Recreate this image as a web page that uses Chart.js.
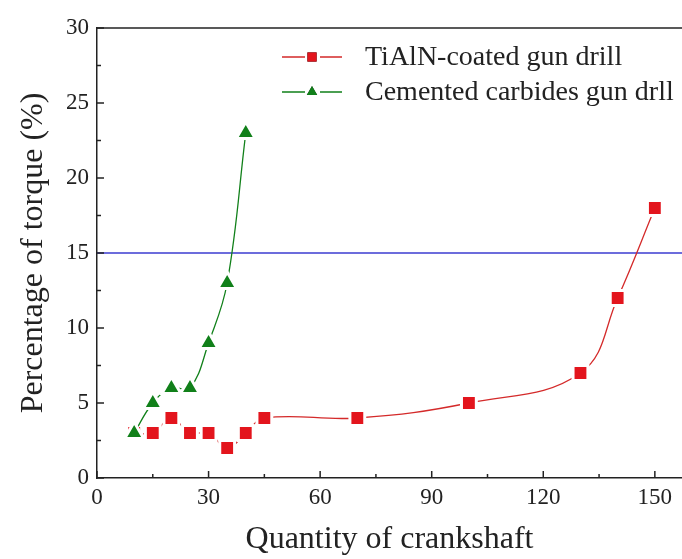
<!DOCTYPE html>
<html>
<head>
<meta charset="utf-8">
<title>Percentage of torque vs quantity of crankshaft</title>
<script src="https://cdn.jsdelivr.net/npm/chart.js@4.4.1/dist/chart.umd.min.js"></script>
<style>
    html, body { margin: 0; padding: 0; background: #ffffff; }
    #wrap { width: 682px; height: 559px; }
</style>
</head>
<body>
<div id="wrap"><canvas id="torqueChart" width="682" height="559"></canvas></div>
<script>
// Data
const tialnQty = [10, 15, 20, 25, 30, 35, 40, 45, 70, 100, 130, 140, 150];
const tialnTorque = [3, 3, 4, 3, 3, 2, 3, 4, 4, 5, 7, 12, 18];
const carbideQty = [10, 15, 20, 25, 30, 35, 40];
const carbideTorque = [3, 5, 6, 6, 9, 13, 23];
const limitTorque = 15;
const xTickValues = [0, 30, 60, 90, 120, 150];
const yTickValues = [0, 5, 10, 15, 20, 25, 30];
const seriesNames = ['TiAlN-coated gun drill', 'Cemented carbides gun drll'];

const X_MAX = 157.3;
const SERIF = '"Liberation Serif", "Times New Roman", serif';
const RED = '#e3151d';
const RED_LINE = '#d42a2a';
const GREEN = '#11801a';
const BLUE = '#3b3bd0';

const toPoints = (xs, ys) => xs.map((x, i) => ({ x: x, y: ys[i] }));

// Inward ticks, top frame line and the in-plot legend
const framePlugin = {
    id: 'frame',
    afterDraw(chart) {
        const ctx = chart.ctx;
        const area = chart.chartArea;
        const xs = chart.scales.x;
        const ys = chart.scales.y;
        ctx.save();
        ctx.strokeStyle = '#222';
        ctx.lineWidth = 1.5;

        // top border
        ctx.beginPath();
        ctx.moveTo(area.left, area.top);
        ctx.lineTo(chart.width, area.top);
        ctx.stroke();

        // x ticks (major + minor)
        xTickValues.forEach((v) => {
            const px = xs.getPixelForValue(v);
            ctx.beginPath();
            ctx.moveTo(px, area.bottom);
            ctx.lineTo(px, area.bottom - 7);
            ctx.stroke();
            const mid = v + 15;
            if (mid < X_MAX) {
                const mx = xs.getPixelForValue(mid);
                ctx.beginPath();
                ctx.moveTo(mx, area.bottom);
                ctx.lineTo(mx, area.bottom - 4);
                ctx.stroke();
            }
        });

        // y ticks (major + minor)
        yTickValues.forEach((v) => {
            const py = ys.getPixelForValue(v);
            ctx.beginPath();
            ctx.moveTo(area.left, py);
            ctx.lineTo(area.left + 7, py);
            ctx.stroke();
            if (v < 30) {
                const my = ys.getPixelForValue(v + 2.5);
                ctx.beginPath();
                ctx.moveTo(area.left, my);
                ctx.lineTo(area.left + 4, my);
                ctx.stroke();
            }
        });

        // legend
        const items = [
            { label: seriesNames[0], line: RED_LINE, fill: RED, style: 'rect', y: 57 },
            { label: seriesNames[1], line: GREEN, fill: GREEN, style: 'triangle', y: 92 }
        ];
        ctx.font = '28px ' + SERIF;
        ctx.textBaseline = 'middle';
        ctx.textAlign = 'left';
        items.forEach((it) => {
            ctx.strokeStyle = it.line;
            ctx.lineWidth = 1.3;
            ctx.beginPath();
            ctx.moveTo(282, it.y);
            ctx.lineTo(305, it.y);
            ctx.moveTo(320, it.y);
            ctx.lineTo(342, it.y);
            ctx.stroke();
            Chart.helpers.drawPoint(ctx, {
                pointStyle: it.style,
                radius: it.style === 'rect' ? 6.5 : 6,
                rotation: 0,
                borderWidth: 0
            }, 312, it.y);
            ctx.fillStyle = it.fill;
            ctx.fill();
            ctx.fillStyle = '#222';
            ctx.fillText(it.label, 365, it.y + 1);
        });
        ctx.restore();
    }
};

const ctx = document.getElementById('torqueChart').getContext('2d');
const chart = new Chart(ctx, {
    type: 'line',
    data: {
        datasets: [
            {
                label: seriesNames[0],
                data: toPoints(tialnQty, tialnTorque),
                borderColor: RED_LINE,
                borderWidth: 1.3,
                backgroundColor: RED,
                pointStyle: 'rect',
                pointRadius: 10.5,
                pointBorderWidth: 3,
                pointBorderColor: '#ffffff',
                pointBackgroundColor: RED,
                tension: 0.4,
                fill: false,
                order: 1
            },
            {
                label: seriesNames[1],
                data: toPoints(carbideQty, carbideTorque),
                borderColor: GREEN,
                borderWidth: 1.3,
                backgroundColor: GREEN,
                pointStyle: 'triangle',
                pointRadius: 11,
                pointBorderWidth: 3,
                pointBorderColor: '#ffffff',
                pointBackgroundColor: GREEN,
                tension: 0.4,
                fill: false,
                order: 0
            },
            {
                label: 'limit',
                data: [{ x: 0, y: limitTorque }, { x: X_MAX, y: limitTorque }],
                borderColor: BLUE,
                borderWidth: 1.4,
                pointRadius: 0,
                tension: 0,
                fill: false,
                order: 2
            }
        ]
    },
    options: {
        responsive: false,
        animation: false,
        layout: { autoPadding: false, padding: { top: 28, left: 0, right: 0, bottom: 0 } },
        plugins: {
            legend: { display: false },
            tooltip: { enabled: false }
        },
        scales: {
            x: {
                type: 'linear',
                min: 0,
                max: X_MAX,
                afterFit: (scale) => {
                    scale.height = 81;
                    scale.paddingLeft = 0;
                    scale.paddingRight = 0;
                },
                afterBuildTicks: (scale) => {
                    scale.ticks = xTickValues.map(v => ({ value: v }));
                },
                grid: { display: false, drawTicks: false },
                border: { display: true, color: '#222', width: 1.5 },
                ticks: {
                    color: '#222',
                    padding: 6,
                    font: { family: SERIF, size: 23 }
                },
                title: {
                    display: true,
                    text: 'Quantity of crankshaft',
                    color: '#222',
                    font: { family: SERIF, size: 32 },
                    padding: { top: 0, bottom: 0 }
                }
            },
            y: {
                type: 'linear',
                min: 0,
                max: 30,
                afterFit: (scale) => {
                    scale.width = 97;
                    scale.paddingTop = 0;
                    scale.paddingBottom = 0;
                },
                afterBuildTicks: (scale) => {
                    scale.ticks = yTickValues.map(v => ({ value: v }));
                },
                grid: { display: false, drawTicks: false },
                border: { display: true, color: '#222', width: 1.5 },
                ticks: {
                    color: '#222',
                    padding: 8,
                    font: { family: SERIF, size: 23 }
                },
                title: {
                    display: true,
                    text: 'Percentage of torque (%)',
                    color: '#222',
                    font: { family: SERIF, size: 32 },
                    padding: { top: 14, bottom: 0 }
                }
            }
        }
    },
    plugins: [framePlugin]
});
</script>
</body>
</html>
